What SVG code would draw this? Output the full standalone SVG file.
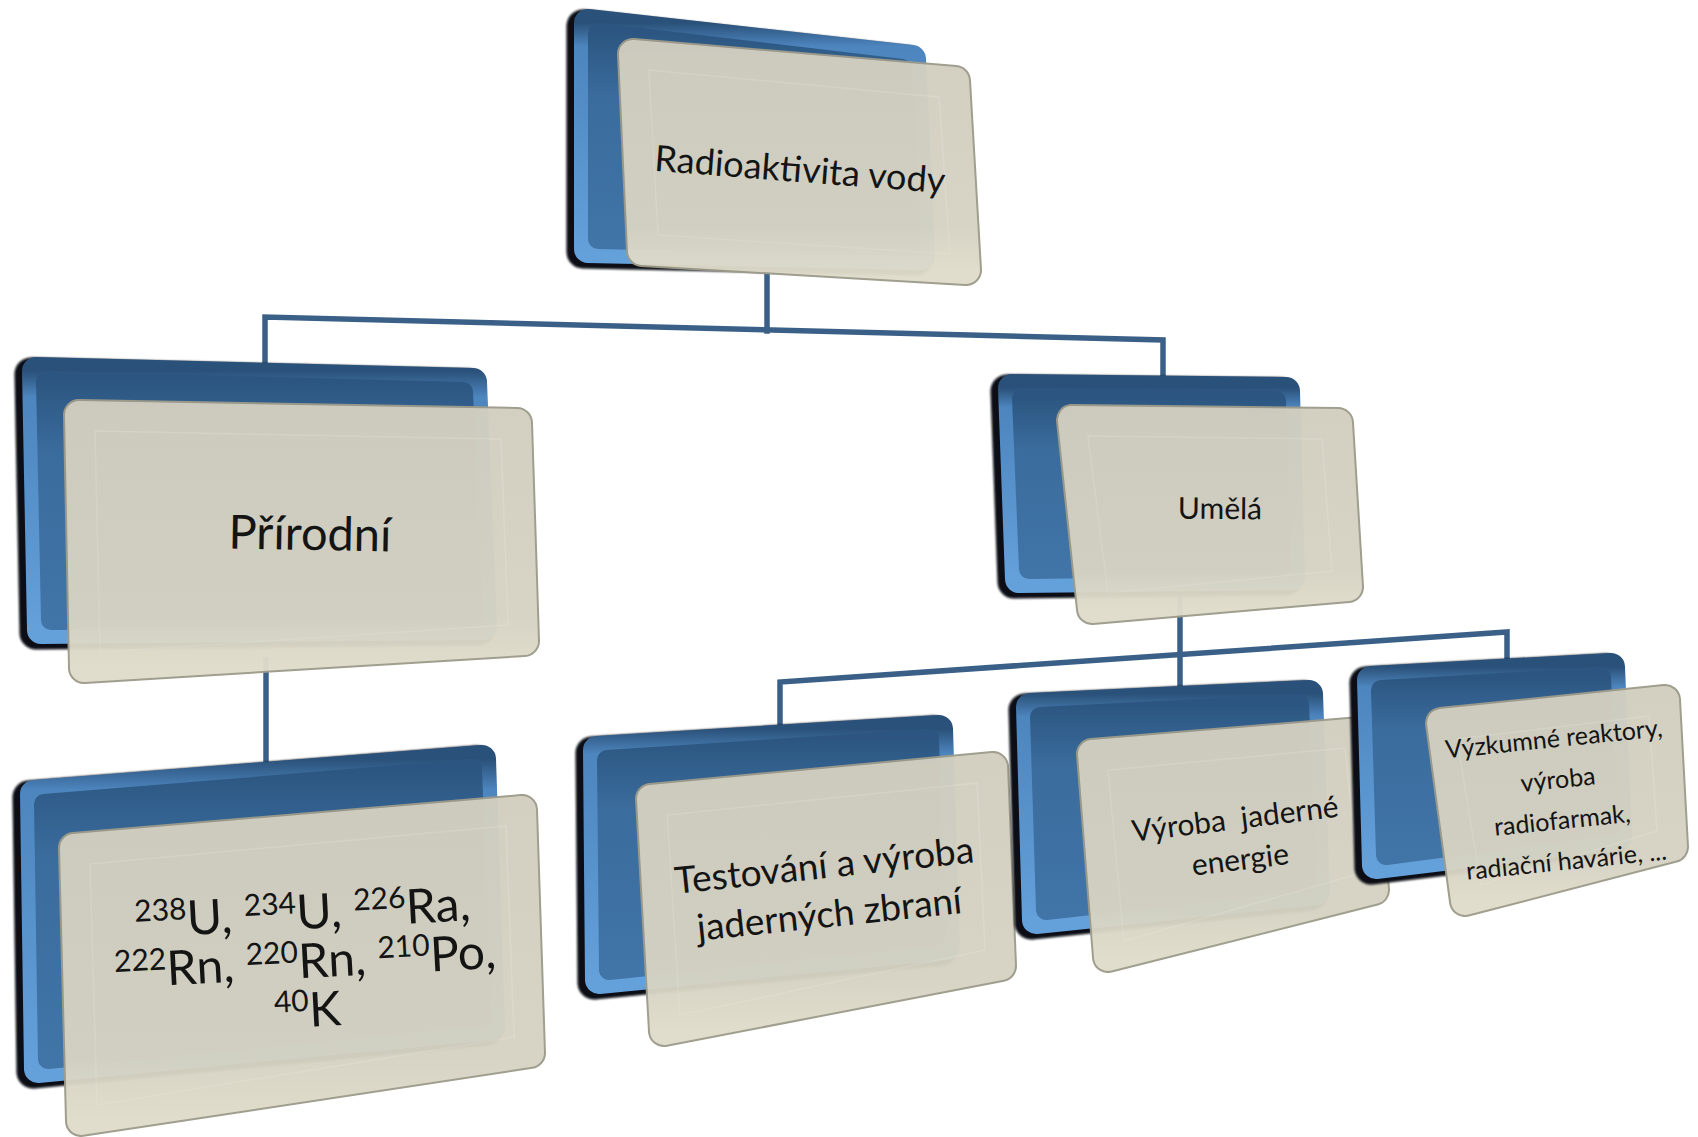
<svg xmlns="http://www.w3.org/2000/svg" width="1698" height="1137" viewBox="0 0 1698 1137">
<defs>
<linearGradient id="gBlueOut" x1="0" y1="0" x2="0" y2="1">
<stop offset="0" stop-color="#2a5179"/><stop offset="0.1" stop-color="#4d85be"/><stop offset="1" stop-color="#64a0da"/>
</linearGradient>
<linearGradient id="gBlueIn" x1="0" y1="0" x2="0" y2="1">
<stop offset="0" stop-color="#2c5681"/><stop offset="0.3" stop-color="#3a6c9d"/><stop offset="1" stop-color="#4174a7"/>
</linearGradient>
<linearGradient id="gBeige" x1="0" y1="0" x2="0" y2="1">
<stop offset="0" stop-color="#d2cfc0"/><stop offset="0.8" stop-color="#d6d3c3"/><stop offset="1" stop-color="#e0dccb"/>
</linearGradient>
<filter id="blur" x="-10%" y="-10%" width="120%" height="120%"><feGaussianBlur stdDeviation="1.2"/></filter>
</defs>
<style>
.conn{fill:none;stroke:#3b6088;stroke-width:5.5;stroke-linecap:square}
.sh{fill:#070c12;stroke:#070c12;stroke-width:33;stroke-linejoin:round;filter:url(#blur)}
.bo{fill:url(#gBlueOut);stroke:url(#gBlueOut);stroke-width:28;stroke-linejoin:round}
.bi{fill:url(#gBlueIn);stroke:url(#gBlueIn);stroke-width:20;stroke-linejoin:round}
.cb{fill:#9d9b8a;stroke:#9d9b8a;stroke-width:32;stroke-linejoin:round}
.cf{fill:url(#gBeige);stroke:url(#gBeige);stroke-width:28;stroke-linejoin:round}
.ch{fill:none;stroke:#e4e1d4;stroke-width:1.5;stroke-linejoin:round;opacity:.4}
.card{opacity:.965}
text{font-family:Lato,"Liberation Sans",sans-serif;fill:#141414;text-anchor:middle;white-space:pre}
.sup{font-size:30px}
</style>

<g id="connectors">
<path class="conn" d="M767,255 V331"/>
<path class="conn" d="M265,362 V317 L1163,340 V376"/>
<path class="conn" d="M1180,590 V686"/>
<path class="conn" d="M780,724 V682 L1507,632 V659"/>
<path class="conn" d="M266,660 V762"/>
</g>

<g id="node-root">
<g transform="translate(-5,3)"><polygon class="sh" points="588,23 912,59 921,256 588,249"/></g>
<polygon class="bo" points="588,23 912,59 921,256 588,249"/>
<polygon class="bi" points="598,33 902,69 911,246 598,239"/>
<g class="card">
<polygon class="cb" points="633,54 955,81 966,270 642,251"/>
<polygon class="cf" points="633,54 955,81 966,270 642,251"/>
<polygon class="ch" points="649,70 939,97 950,254 658,235"/>
</g>
<g transform="translate(800,170) rotate(4.4)"><text x="0" y="12" font-size="36">Radioaktivita vody</text></g>
</g>

<g id="node-prirodni">
<g transform="translate(-5,3)"><polygon class="sh" points="36,371 473,382 483,626 41,630"/></g>
<polygon class="bo" points="36,371 473,382 483,626 41,630"/>
<polygon class="bi" points="46,381 463,392 473,616 51,620"/>
<g class="card">
<polygon class="cb" points="79,415 517,423 524,641 84,668"/>
<polygon class="cf" points="79,415 517,423 524,641 84,668"/>
<polygon class="ch" points="95,431 501,439 508,625 100,652"/>
</g>
<g transform="translate(310,534) rotate(1)"><text x="0" y="16" font-size="47">Přírodní</text></g>
</g>

<g id="node-umela">
<g transform="translate(-5,3)"><polygon class="sh" points="1012,388 1286,391 1291,576 1019,579"/></g>
<polygon class="bo" points="1012,388 1286,391 1291,576 1019,579"/>
<polygon class="bi" points="1022,398 1276,401 1281,566 1029,569"/>
<g class="card">
<polygon class="cb" points="1072,420 1338,423 1348,587 1092,609"/>
<polygon class="cf" points="1072,420 1338,423 1348,587 1092,609"/>
<polygon class="ch" points="1088,436 1322,439 1332,571 1108,593"/>
</g>
<g transform="translate(1220,509) rotate(0.5)"><text x="0" y="10" font-size="30">Umělá</text></g>
</g>

<g id="node-izotopy">
<g transform="translate(-5,3)"><polygon class="sh" points="34,794 482,759 491,1026 38,1069"/></g>
<polygon class="bo" points="34,794 482,759 491,1026 38,1069"/>
<polygon class="bi" points="44,804 472,769 481,1016 48,1059"/>
<g class="card">
<polygon class="cb" points="74,848 522,810 530,1053 81,1121"/>
<polygon class="cf" points="74,848 522,810 530,1053 81,1121"/>
<polygon class="ch" points="90,864 506,826 514,1037 97,1105"/>
</g>
<g transform="translate(305,960) rotate(-3)" font-size="48">
<text x="0" y="-31"><tspan class="sup" dy="-16">238</tspan><tspan dy="16">U, </tspan><tspan class="sup" dy="-16">234</tspan><tspan dy="16">U, </tspan><tspan class="sup" dy="-16">226</tspan><tspan dy="16">Ra,</tspan></text>
<text x="0" y="18"><tspan class="sup" dy="-16">222</tspan><tspan dy="16">Rn, </tspan><tspan class="sup" dy="-16">220</tspan><tspan dy="16">Rn, </tspan><tspan class="sup" dy="-16">210</tspan><tspan dy="16">Po,</tspan></text>
<text x="0" y="67"><tspan class="sup" dy="-16">40</tspan><tspan dy="16">K</tspan></text>
</g>
</g>

<g id="node-testovani">
<g transform="translate(-5,3)"><polygon class="sh" points="597,750 939,729 946,946 599,980"/></g>
<polygon class="bo" points="597,750 939,729 946,946 599,980"/>
<polygon class="bi" points="607,760 929,739 936,936 609,970"/>
<g class="card">
<polygon class="cb" points="651,799 993,767 1001,966 664,1031"/>
<polygon class="cf" points="651,799 993,767 1001,966 664,1031"/>
<polygon class="ch" points="667,815 977,783 985,950 680,1015"/>
</g>
<g transform="translate(828,902) rotate(-6)" font-size="37">
<text x="0" y="-24">Testování a výroba</text>
<text x="0" y="25">jaderných zbraní</text>
</g>
</g>

<g id="node-energie">
<g transform="translate(-5,3)"><polygon class="sh" points="1030,707 1309,694 1316,891 1036,920"/></g>
<polygon class="bo" points="1030,707 1309,694 1316,891 1036,920"/>
<polygon class="bi" points="1040,717 1299,704 1306,881 1046,910"/>
<g class="card">
<polygon class="cb" points="1092,754 1361,732 1374,890 1108,957"/>
<polygon class="cf" points="1092,754 1361,732 1374,890 1108,957"/>
<polygon class="ch" points="1108,770 1345,748 1358,874 1124,941"/>
</g>
<g transform="translate(1239,850) rotate(-7)" font-size="30">
<text x="0" y="-21">Výroba  jaderné</text>
<text x="0" y="20">energie</text>
</g>
</g>

<g id="node-vyzkum">
<g transform="translate(-5,3)"><polygon class="sh" points="1371,680 1611,667 1618,836 1376,865"/></g>
<polygon class="bo" points="1371,680 1611,667 1618,836 1376,865"/>
<polygon class="bi" points="1381,690 1601,677 1608,826 1386,855"/>
<g class="card">
<polygon class="cb" points="1441,723 1665,700 1673,847 1465,901"/>
<polygon class="cf" points="1441,723 1665,700 1673,847 1465,901"/>
<polygon class="ch" points="1457,739 1649,716 1657,831 1481,885"/>
</g>
<g transform="translate(1561,809) rotate(-5.8)" font-size="25">
<text x="0" y="-62">Výzkumné reaktory,</text>
<text x="0" y="-21">výroba</text>
<text x="0" y="20">radiofarmak,</text>
<text x="0" y="61">radiační havárie, ...</text>
</g>
</g>
</svg>
